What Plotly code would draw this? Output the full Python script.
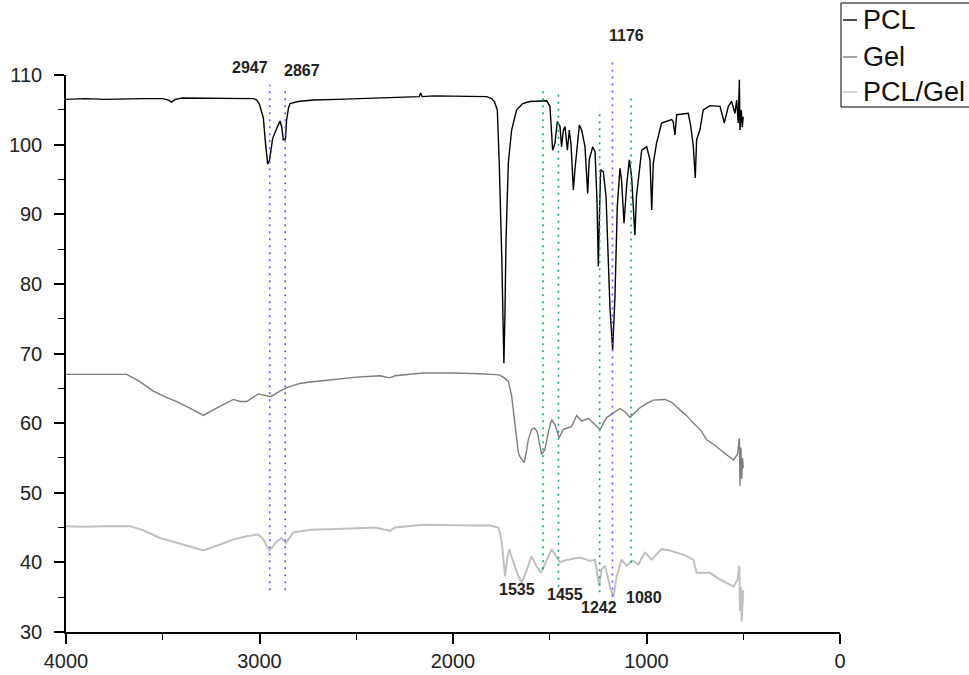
import plotly.graph_objects as go

# ---------------- data ----------------
pcl_wn = [4000, 3900, 3800, 3700, 3600, 3500, 3470, 3454, 3435, 3400, 3300, 3200, 3100, 3030, 3014,
          3000, 2990, 2980, 2970, 2958, 2948, 2940, 2932, 2910, 2894, 2885, 2877, 2866, 2860, 2850,
          2842, 2800, 2724, 2600, 2400, 2300, 2207, 2175, 2167, 2160, 2100, 2000, 1900, 1861, 1826,
          1800, 1785, 1771, 1761, 1748, 1740, 1737, 1732, 1726, 1714, 1697, 1671, 1640, 1602, 1516,
          1499, 1485, 1473, 1461, 1447, 1439, 1430, 1421, 1409, 1399, 1390, 1378, 1370, 1347, 1335,
          1318, 1304, 1296, 1278, 1266, 1256, 1249, 1243, 1237, 1223, 1209, 1189, 1175, 1163, 1151,
          1137, 1129, 1116, 1103, 1089, 1077, 1060, 1052, 1025, 999, 982, 973, 965, 948, 922,
          870, 862, 853, 844, 784, 771, 758, 748, 741, 724, 707, 672, 620, 598, 577,
          560, 543, 534, 526, 520, 517, 510, 505, 500]
pcl_val = [106.5, 106.6, 106.5, 106.6, 106.6, 106.6, 106.4, 106.1, 106.5, 106.7, 106.7, 106.7, 106.7, 106.6, 106.4,
           105.8, 104.8, 103.8, 100.5, 97.2, 97.8, 99.6, 100.9, 102.4, 103.4, 102.5, 100.7, 100.8, 103.5, 105.3,
           105.9, 106.2, 106.4, 106.5, 106.7, 106.7, 106.8, 106.9, 107.4, 106.9, 107.0, 107.0, 107.0, 107.0, 106.9,
           106.6, 106.1, 105.0, 97.3, 83.9, 71.0, 68.6, 75.0, 86.3, 97.4, 102.1, 105.0, 105.9, 106.2, 106.3,
           105.5, 99.2, 100.2, 103.3, 102.6, 99.7, 102.0, 102.6, 99.2, 102.1, 100.0, 93.5, 96.4, 102.8, 102.1,
           99.7, 93.0, 97.8, 99.7, 99.0, 92.0, 82.5, 90.0, 96.4, 96.1, 92.5, 76.7, 70.5, 78.2, 91.1,
           96.6, 94.9, 88.7, 94.0, 97.8, 95.4, 87.0, 92.5, 99.2, 99.7, 97.8, 90.6, 97.3, 100.2, 103.1,
           103.6, 103.3, 101.4, 104.3, 104.5, 102.6, 99.7, 95.2, 100.7, 102.1, 105.0, 105.6, 105.5, 103.1, 105.5,
           106.2, 104.5, 106.4, 103.1, 109.3, 102.1, 105.0, 102.5, 104.0]

gel_wn = [4000, 3900, 3800, 3686, 3620, 3549, 3490, 3428, 3350, 3290, 3220, 3135, 3100, 3066, 3006,
          2942, 2894, 2860, 2791, 2739, 2600, 2500, 2377, 2326, 2300, 2155, 2000, 1929, 1861, 1800,
          1757, 1735, 1714, 1697, 1688, 1680, 1662, 1654, 1640, 1632, 1620, 1611, 1594, 1580, 1565,
          1542, 1525, 1505, 1490, 1473, 1451, 1430, 1410, 1387, 1361, 1335, 1301, 1266, 1240, 1206,
          1171, 1137, 1110, 1085, 1060, 1034, 1000, 965, 904, 870, 827, 790, 758, 720, 689,
          650, 620, 585, 551, 530, 520, 517, 512, 508, 504, 500]
gel_val = [67.0, 67.0, 66.9, 67.0, 66.0, 64.6, 63.8, 63.1, 62.0, 61.1, 62.2, 63.4, 63.1, 63.1, 64.2,
           63.8, 64.6, 65.1, 65.7, 65.9, 66.3, 66.6, 66.8, 66.5, 66.8, 67.2, 67.2, 67.2, 67.1, 67.0,
           66.9, 66.5, 66.0, 63.9, 61.9, 60.5, 55.7, 55.2, 54.5, 54.3, 56.0, 57.6, 59.1, 59.3, 58.8,
           55.5, 56.2, 59.0, 60.5, 59.8, 57.9, 59.1, 59.3, 59.5, 61.1, 60.3, 60.7, 59.8, 59.1, 60.8,
           61.5, 62.1, 61.6, 60.8, 61.5, 62.2, 62.8, 63.3, 63.4, 63.0, 61.9, 61.0, 60.0, 59.0, 57.6,
           56.9, 56.2, 55.5, 54.7, 55.5, 57.8, 51.0, 56.5, 52.0, 55.0, 53.5]

blend_wn = [4000, 3900, 3800, 3669, 3600, 3514, 3400, 3290, 3200, 3135, 3060, 3006, 2980, 2949, 2930,
            2911, 2886, 2863, 2825, 2739, 2600, 2400, 2326, 2300, 2155, 2000, 1900, 1809, 1766, 1757,
            1748, 1736, 1731, 1720, 1709, 1700, 1688, 1665, 1645, 1620, 1594, 1570, 1545, 1520, 1490,
            1470, 1447, 1420, 1395, 1370, 1344, 1310, 1292, 1266, 1244, 1232, 1214, 1185, 1171, 1154,
            1129, 1103, 1085, 1068, 1042, 1008, 973, 922, 880, 844, 800, 758, 741, 700, 672,
            630, 586, 550, 530, 520, 517, 512, 508, 504, 500]
blend_val = [45.2, 45.1, 45.2, 45.2, 44.6, 43.5, 42.6, 41.7, 42.6, 43.3, 43.8, 44.0, 43.3, 41.7, 42.3,
             43.0, 43.5, 42.8, 44.3, 44.7, 44.8, 45.0, 44.5, 45.0, 45.4, 45.3, 45.3, 45.3, 45.0, 44.2,
             42.8, 39.5, 38.0, 40.5, 41.9, 41.0, 40.0, 38.2, 37.1, 38.8, 40.9, 39.5, 38.5, 40.0, 41.9,
             41.0, 40.0, 40.3, 40.4, 40.5, 40.7, 40.4, 40.2, 40.4, 36.6, 39.0, 39.5, 36.1, 35.0, 38.0,
             40.4, 39.5, 40.0, 40.2, 39.7, 41.4, 40.4, 41.9, 41.7, 41.4, 41.0, 40.4, 38.5, 38.5, 38.5,
             37.7, 37.1, 36.5, 37.5, 39.5, 33.0, 36.5, 31.5, 35.5, 36.0]

series_names = ["PCL", "Gel", "PCL/Gel"]
x_ticks = [4000, 3000, 2000, 1000, 0]
y_ticks = [30, 40, 50, 60, 70, 80, 90, 100, 110]

# peak markers: label, position, line top/bottom (axis units), label position
peak_labels = ["2947", "2867", "1176", "1535", "1455", "1242", "1080"]
peak_pos = [2947, 2867, 1176, 1535, 1455, 1242, 1080]
peak_top = [108.6, 107.8, 112.2, 107.8, 107.6, 105.1, 107.3]
peak_bottom = [36.0, 36.0, 35.1, 39.0, 36.5, 35.7, 40.0]
label_x = [3049, 2780, 1101, 1669, 1421, 1245, 1013]
label_y = [111.1, 110.7, 115.7, 36.1, 35.4, 33.5, 35.0]

# ---------------- figure ----------------
YMIN, YMAX = 30, 110
W, H = 969, 675
ML, MR, MT, MB = 66, 129, 75, 43
PW, PH = W - ML - MR, H - MT - MB
FONT = "Arial, Liberation Sans, sans-serif"
PURPLE, TEAL = "#9b3dff", "#1a9a9a"
peak_colors = [PURPLE, PURPLE, PURPLE, TEAL, TEAL, TEAL, TEAL]
line_colors = ["#000000", "#7d7d7d", "#c0c0c0"]
widths = [1.4, 1.4, 2.0]


def px_x(px):  # page pixel -> paper x
    return (px - ML) / PW


def px_y(py):  # page pixel -> paper y
    return (H - MB - py) / PH


def to_paper(v):
    return (v - YMIN) / (YMAX - YMIN)


fig = go.Figure()
for name, xs, ys, c, w in zip(series_names, [pcl_wn, gel_wn, blend_wn],
                              [pcl_val, gel_val, blend_val], line_colors, widths):
    fig.add_trace(go.Scatter(x=xs, y=ys, mode="lines", name=name,
                             line=dict(color=c, width=w), showlegend=False))

for lab, p, t, b, lx, ly, col in zip(peak_labels, peak_pos, peak_top, peak_bottom,
                                      label_x, label_y, peak_colors):
    fig.add_shape(type="line", xref="x", yref="paper", x0=p, x1=p,
                  y0=to_paper(b), y1=to_paper(t),
                  line=dict(color=col, width=1.6, dash="2px,5px"))
    fig.add_annotation(x=lx, y=to_paper(ly), xref="x", yref="paper", text="<b>%s</b>" % lab,
                       xanchor="center", yanchor="middle",
                       showarrow=False, font=dict(family=FONT, size=16, color="#222222"))

# legend box (drawn as in the original, top-right corner)
fig.add_shape(type="rect", xref="paper", yref="paper",
              x0=px_x(841), x1=px_x(990), y0=px_y(107), y1=px_y(3),
              line=dict(color="black", width=1), fillcolor="white", layer="above")
row_y = [20, 57, 92]
for name, c, ry in zip(series_names, line_colors, row_y):
    fig.add_shape(type="line", xref="paper", yref="paper",
                  x0=px_x(843), x1=px_x(857), y0=px_y(ry), y1=px_y(ry),
                  line=dict(color=c, width=1.4), layer="above")
    fig.add_annotation(x=px_x(861), y=px_y(ry), xref="paper", yref="paper", text=name,
                       xanchor="left", yanchor="middle", showarrow=False,
                       font=dict(family=FONT, size=27, color="#111111"))

axis_common = dict(showgrid=False, zeroline=False, showline=True, linecolor="black", linewidth=1.5,
                   ticks="outside", ticklen=10, tickwidth=1.5, tickcolor="black",
                   tickfont=dict(size=20, color="#222222"))
fig.update_layout(
    width=W, height=H,
    margin=dict(l=ML, r=MR, t=MT, b=MB, autoexpand=False),
    paper_bgcolor="white", plot_bgcolor="white",
    font=dict(family=FONT, size=20, color="#222222"),
    showlegend=False,
    xaxis=dict(range=[4000, 0], tickvals=x_ticks, ticktext=[str(v) for v in x_ticks],
               minor=dict(dtick=500, ticks="outside", ticklen=6, tickwidth=1.2, tickcolor="black"),
               **axis_common),
    yaxis=dict(range=[YMIN, YMAX], tickvals=y_ticks, ticktext=[str(v) for v in y_ticks],
               ticklabelstandoff=8,
               minor=dict(dtick=5, ticks="outside", ticklen=6, tickwidth=1.2, tickcolor="black"),
               **axis_common),
)

fig.write_html("out.html", config={"displayModeBar": False},
               post_script="document.body.style.margin='0';document.body.style.overflow='hidden';")
